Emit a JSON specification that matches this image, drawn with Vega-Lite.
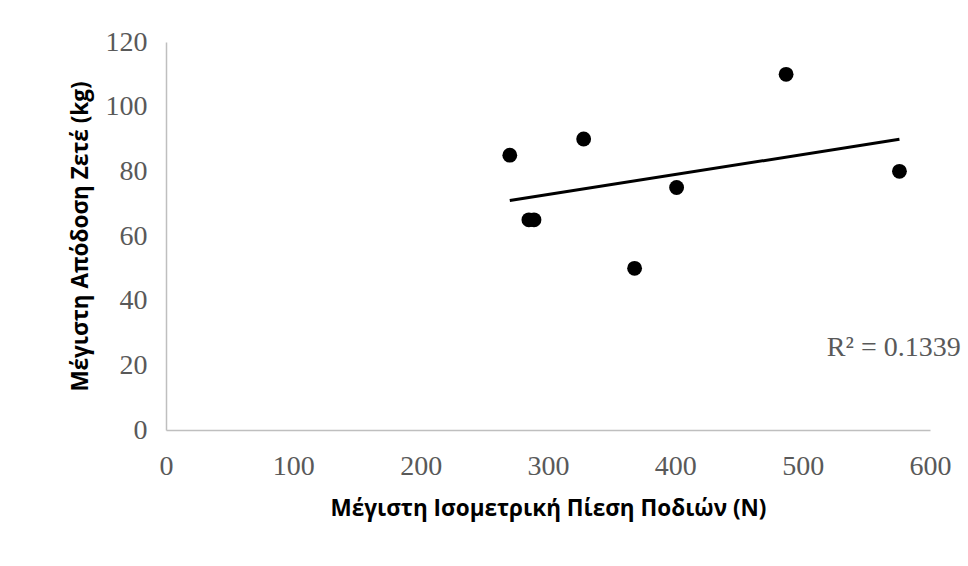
{
  "$schema": "https://vega.github.io/schema/vega-lite/v6.json",
  "width": 764,
  "height": 388,
  "autosize": {"type": "none"},
  "padding": {"left": 166, "top": 42, "right": 38, "bottom": 136},
  "background": "white",
  "config": {"view": {"stroke": null}},
  "datasets": {
    "pts": [
      {"force": 270, "squat": 85},
      {"force": 285, "squat": 65},
      {"force": 289, "squat": 65},
      {"force": 328, "squat": 90},
      {"force": 368, "squat": 50},
      {"force": 401, "squat": 75},
      {"force": 487, "squat": 110},
      {"force": 576, "squat": 80}
    ],
    "note": [{"force": 519, "squat": 23, "label": "R² = 0.1339"}]
  },
  "layer": [
    {
      "data": {"name": "pts"},
      "mark": {"type": "circle", "size": 220, "color": "black", "opacity": 1},
      "encoding": {
        "x": {
          "field": "force", "type": "quantitative",
          "scale": {"domain": [0, 600], "nice": false, "zero": true},
          "axis": {
            "title": "Μέγιστη Ισομετρική Πίεση Ποδιών (N)",
            "values": [0, 100, 200, 300, 400, 500, 600],
            "grid": false, "ticks": false,
            "domainColor": "#bfbfbf", "domainWidth": 1.5,
            "labelFont": "Liberation Serif", "labelFontSize": 28, "labelColor": "#595959",
            "labelPadding": 22, "labelFlush": false,
            "titleFont": "Open Sans", "titleFontSize": 22.5, "titleFontWeight": "bold", "titleColor": "black",
            "titlePadding": 17
          }
        },
        "y": {
          "field": "squat", "type": "quantitative",
          "scale": {"domain": [0, 120], "nice": false},
          "axis": {
            "title": "Μέγιστη Απόδοση Ζετέ (kg)",
            "values": [0, 20, 40, 60, 80, 100, 120],
            "grid": false, "ticks": false,
            "domainColor": "#bfbfbf", "domainWidth": 1.5,
            "labelFont": "Liberation Serif", "labelFontSize": 28, "labelColor": "#595959",
            "labelPadding": 19, "labelFlush": false,
            "titleFont": "Open Sans", "titleFontSize": 22.5, "titleFontWeight": "bold", "titleColor": "black",
            "titlePadding": 13
          }
        }
      }
    },
    {
      "data": {"name": "pts"},
      "transform": [{"regression": "squat", "on": "force"}],
      "mark": {"type": "line", "color": "black", "strokeWidth": 3},
      "encoding": {
        "x": {"field": "force", "type": "quantitative"},
        "y": {"field": "squat", "type": "quantitative"}
      }
    },
    {
      "data": {"name": "note"},
      "mark": {"type": "text", "align": "left", "baseline": "alphabetic", "font": "Liberation Serif", "fontSize": 28, "color": "#595959"},
      "encoding": {
        "x": {"field": "force", "type": "quantitative"},
        "y": {"field": "squat", "type": "quantitative"},
        "text": {"field": "label"}
      }
    }
  ]
}
